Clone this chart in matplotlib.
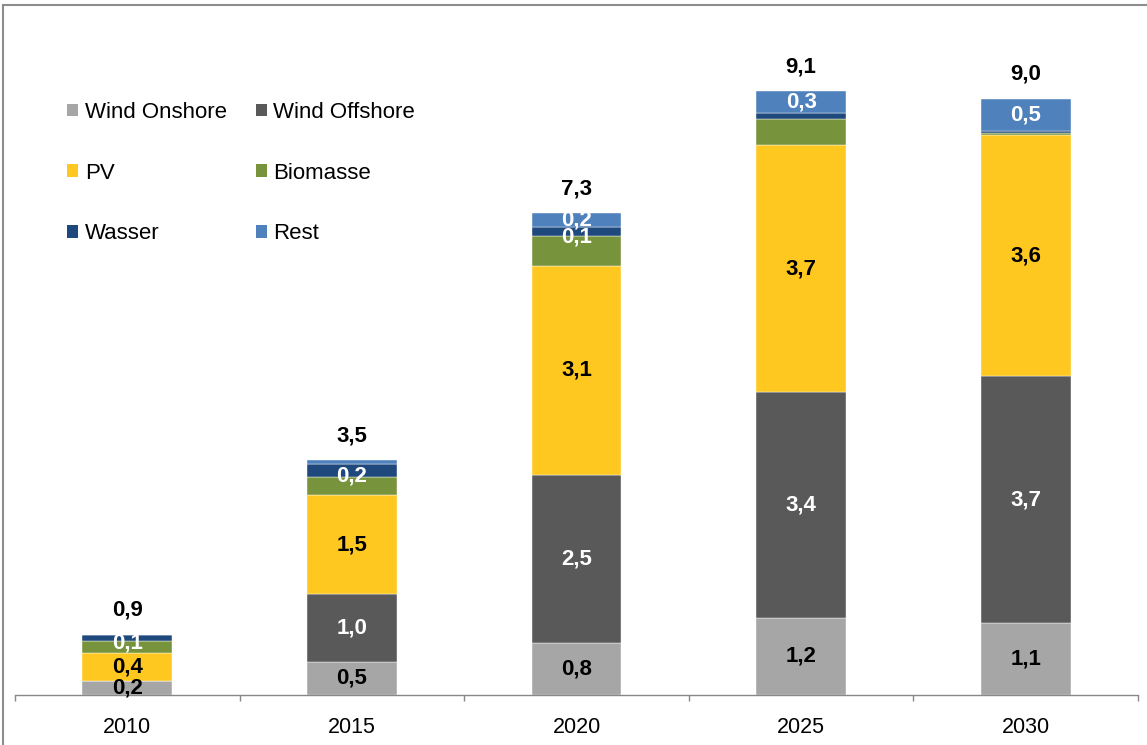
import numpy as np
import matplotlib.pyplot as plt
from matplotlib.patches import Patch, Rectangle

plt.rcParams['font.family'] = ['Liberation Sans', 'DejaVu Sans']

years = ['2010', '2015', '2020', '2025', '2030']
series = ['Wind Onshore', 'Wind Offshore', 'PV', 'Biomasse', 'Wasser', 'Rest']

wind_onshore = [0.21, 0.50, 0.78, 1.16, 1.08]
wind_offshore = [0.00, 1.02, 2.54, 3.40, 3.72]
pv = [0.43, 1.49, 3.14, 3.72, 3.63]
biomasse = [0.17, 0.27, 0.45, 0.39, 0.04]
wasser = [0.10, 0.20, 0.14, 0.09, 0.03]
rest = [0.00, 0.06, 0.21, 0.33, 0.48]

colors = ['#A6A6A6', '#595959', '#FFC820', '#77933C', '#1F497D', '#4F81BD']
label_colors = ['black', 'white', 'black', None, 'white', 'white']  # None = no labels

values = np.array([wind_onshore, wind_offshore, pv, biomasse, wasser, rest])
totals = values.sum(axis=0)
x = np.arange(len(years))


def fmt(v):
    return f"{v:.1f}".replace('.', ',')


fig = plt.figure(figsize=(11.47, 7.45), dpi=100)
ax = fig.add_axes([15 / 1147, 1 - 695 / 745, 1123 / 1147, 664 / 745])

bottom = np.zeros(len(years))
for i, name in enumerate(series):
    ax.bar(x, values[i], 0.4, bottom=bottom, color=colors[i], label=name,
           edgecolor='white', linewidth=0.3)
    if label_colors[i] is not None:
        for j in range(len(years)):
            v = values[i][j]
            if v < 0.095:
                continue
            dy = -4 if name == 'Wasser' else 0
            ax.annotate(fmt(v), (x[j], bottom[j] + v / 2), xytext=(0, dy),
                        textcoords='offset points', ha='center', va='center',
                        fontsize=16, fontweight='bold', color=label_colors[i])
    bottom += values[i]

for j in range(len(years)):
    ax.annotate(fmt(totals[j]), (x[j], totals[j]), xytext=(0, 10),
                textcoords='offset points', ha='center', va='bottom',
                fontsize=16, fontweight='bold', color='black')

ax.set_xlim(-0.5, len(years) - 0.5)
ax.set_ylim(0, 10)
ax.set_xticks(x)
ax.set_xticklabels(years, fontsize=15.5)
ax.set_xticks(np.arange(len(years) + 1) - 0.5, minor=True)
ax.tick_params(axis='x', which='major', length=0, pad=16)
ax.tick_params(axis='x', which='minor', length=4, color='#888888', width=1)
ax.set_yticks([])
for s in ['top', 'right', 'left']:
    ax.spines[s].set_visible(False)
ax.spines['bottom'].set_color('#888888')
ax.spines['bottom'].set_linewidth(1)

# legend row by row: matplotlib fills columns first
order = [0, 2, 4, 1, 3, 5]
handles = [Patch(facecolor=colors[k], edgecolor='none') for k in order]
labels = [series[k] for k in order]
leg = ax.legend(handles, labels, ncol=2, loc='upper left',
                bbox_to_anchor=(52 / 1123, (664 - 71) / 664),
                frameon=False, fontsize=16, handlelength=0.5, handleheight=0.5,
                handletextpad=0.3, labelspacing=1.78, columnspacing=1.3,
                borderaxespad=0, borderpad=0)

# chart frame
fig.patches.append(Rectangle((3 / 1147, -0.1), 1.2, 1 - 5 / 745 + 0.1,
                             transform=fig.transFigure, fill=False,
                             edgecolor='#8C8C8C', linewidth=1.5))

fig.savefig('out.png', dpi=100)
